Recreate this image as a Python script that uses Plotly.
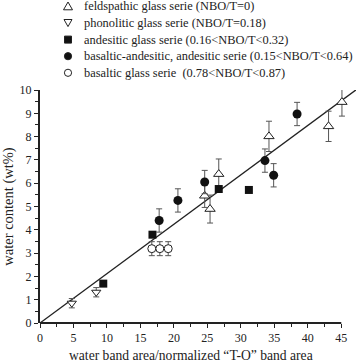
import plotly.graph_objects as go

# Data
feld_x = [24.6, 25.4, 26.7, 34.2, 43.1, 45.1]
feld_y = [5.46, 4.89, 6.39, 8.01, 8.44, 9.48]
feld_err = [0.5, 0.6, 0.65, 0.65, 0.65, 0.6]

phon_x = [4.75, 8.4]
phon_y = [0.85, 1.32]
phon_err = [0.2, 0.2]

and_x = [9.45, 16.8, 26.7, 31.2]
and_y = [1.69, 3.79, 5.75, 5.71]

basand_x = [17.8, 20.6, 24.6, 33.6, 34.9, 38.4]
basand_y = [4.40, 5.26, 6.05, 6.97, 6.34, 8.97]
basand_err = [0.5, 0.5, 0.5, 0.5, 0.5, 0.5]

bas_x = [16.7, 17.9, 19.15]
bas_y = [3.19, 3.19, 3.19]
bas_err = [0.3, 0.3, 0.3]

fit_x = [0, 47.5]
fit_y = [0, 10.07]

names = [
    "feldspathic glass serie (NBO/T=0)",
    "phonolitic glass serie (NBO/T=0.18)",
    "andesitic glass serie (0.16<NBO/T<0.32)",
    "basaltic-andesitic, andesitic serie (0.15<NBO/T<0.64)",
    "basaltic glass serie  (0.78<NBO/T<0.87)",
]
x_title = "water band area/normalized \u201cT-O\u201d band area"
y_title = "water content (wt%)"

FONT = "Liberation Serif"
INK = "#222222"
ERRC = "#555555"

W, H = 356, 362
ML, MR, MT, MB = 40, 0, 90, 39
PH = H - MT - MB
PW = W - ML - MR

def eb(arr):
    return dict(type="data", array=arr, visible=True, color=ERRC, thickness=1, width=3)

fig = go.Figure()

fig.add_trace(go.Scatter(x=fit_x, y=fit_y, mode="lines",
                         line=dict(color=INK, width=1.3),
                         showlegend=False, hoverinfo="skip"))

fig.add_trace(go.Scatter(x=feld_x, y=feld_y, mode="markers", name=names[0],
                         error_y=eb(feld_err), cliponaxis=False, showlegend=False,
                         marker=dict(symbol="triangle-up", size=9, color="white",
                                     line=dict(color=INK, width=1))))
fig.add_trace(go.Scatter(x=phon_x, y=phon_y, mode="markers", name=names[1],
                         error_y=eb(phon_err), cliponaxis=False, showlegend=False,
                         marker=dict(symbol="triangle-down", size=8, color="white",
                                     line=dict(color=INK, width=1))))
fig.add_trace(go.Scatter(x=and_x, y=and_y, mode="markers", name=names[2],
                         cliponaxis=False, showlegend=False,
                         marker=dict(symbol="square", size=8, color="#111111",
                                     line=dict(color="#111111", width=0))))
fig.add_trace(go.Scatter(x=basand_x, y=basand_y, mode="markers", name=names[3],
                         error_y=eb(basand_err), cliponaxis=False, showlegend=False,
                         marker=dict(symbol="circle", size=9, color="#111111",
                                     line=dict(color="#111111", width=0))))
fig.add_trace(go.Scatter(x=bas_x, y=bas_y, mode="markers", name=names[4],
                         error_y=eb(bas_err), cliponaxis=False, showlegend=False,
                         marker=dict(symbol="circle", size=8, color="white",
                                     line=dict(color=INK, width=1))))

XMAX = 47.2
fig.update_layout(
    width=W, height=H,
    margin=dict(l=ML, r=MR, t=MT, b=MB),
    paper_bgcolor="white", plot_bgcolor="white",
    font=dict(family=FONT, color=INK, size=12),
    showlegend=False,
    xaxis=dict(range=[0, XMAX], showline=False, showgrid=False, zeroline=False,
               tickmode="array", tickvals=[0, 5, 10, 15, 20, 25, 30, 35, 40, 45],
               ticks="outside", ticklen=4, tickwidth=1, tickcolor=INK,
               minor=dict(tickvals=[2.5, 7.5, 12.5, 17.5, 22.5, 27.5, 32.5, 37.5, 42.5],
                          ticks="outside", ticklen=3, tickcolor=INK),
               tickfont=dict(size=12)),
    yaxis=dict(range=[0, 10], showline=True, linewidth=2, linecolor=INK,
               showgrid=False, zeroline=False,
               tickmode="array", tickvals=list(range(0, 11)),
               ticks="outside", ticklen=4, tickwidth=1, tickcolor=INK,
               minor=dict(dtick=0.5, ticks="outside", ticklen=3, tickcolor=INK),
               tickfont=dict(size=12),
               title=dict(text=y_title, font=dict(size=14.5), standoff=4)),
)

def px2x(px):
    return (px - ML) / PW
def py2y(py):
    return (H - MB - py) / PH

# x axis line ends at 45
fig.add_shape(type="line", xref="paper", yref="paper",
              x0=0, x1=45 / XMAX, y0=0, y1=0,
              line=dict(color=INK, width=2))

# x axis title centred under the 0-45 axis
fig.add_annotation(xref="paper", yref="paper", x=px2x(190.5), y=py2y(355),
                   xanchor="center", yanchor="middle", showarrow=False,
                   text=x_title, font=dict(family=FONT, size=13.6, color=INK))

# manual legend (positions in pixels of the page)
leg_rows_py = [6.3, 23.0, 39.6, 56.2, 72.8]
leg_marker_px = 68
leg_text_px = 82

polys = [
    "M -4.5,-3.5 L 4.5,-3.5 L 0,4.3 Z",
    "M -4,3.5 L 4,3.5 L 0,-3.6 Z",
    "M -3.5,-3.5 L 3.5,-3.5 L 3.5,3.5 L -3.5,3.5 Z",
]
fills = ["white", "white", "#111111", "#111111", "white"]
for i, (name, py) in enumerate(zip(names, leg_rows_py)):
    xa, ya = px2x(leg_marker_px), py2y(py)
    if i < 3:
        fig.add_shape(type="path", xref="paper", yref="paper",
                      xsizemode="pixel", ysizemode="pixel",
                      xanchor=xa, yanchor=ya,
                      path=polys[i], fillcolor=fills[i], line=dict(color=INK, width=1))
    else:
        fig.add_shape(type="circle", xref="paper", yref="paper",
                      xsizemode="pixel", ysizemode="pixel",
                      xanchor=xa, yanchor=ya, x0=-3.6, x1=3.6, y0=-3.6, y1=3.6,
                      fillcolor=fills[i], line=dict(color=INK, width=1))
    fig.add_annotation(xref="paper", yref="paper", x=px2x(leg_text_px), y=ya,
                       xanchor="left", yanchor="middle", showarrow=False,
                       text=name, font=dict(family=FONT, size=12.4, color=INK))

fig.write_html("out.html")
